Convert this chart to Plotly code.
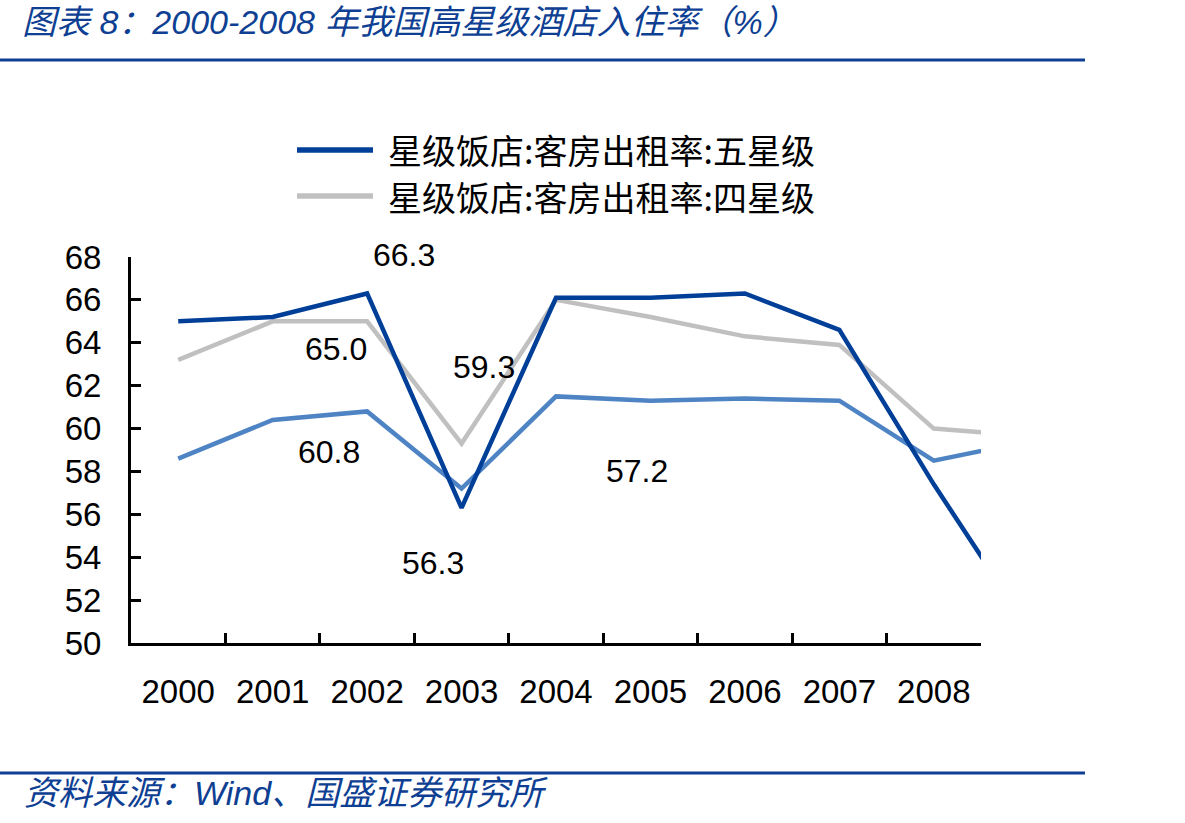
import plotly.graph_objects as go

# ---------------- data ----------------
years = ["2000", "2001", "2002", "2003", "2004", "2005", "2006", "2007", "2008", "2009"]
five_star = [65.0, 65.2, 66.3, 56.3, 66.1, 66.1, 66.3, 64.6, 57.4, 50.7]
four_star = [63.2, 65.0, 65.0, 59.3, 66.0, 65.2, 64.3, 63.9, 60.0, 59.65]
overall = [58.6, 60.4, 60.8, 57.2, 61.5, 61.3, 61.4, 61.3, 58.5, 59.4]
y_ticks = [50, 52, 54, 56, 58, 60, 62, 64, 66, 68]

name_five = "星级饭店:客房出租率:五星级"
name_four = "星级饭店:客房出租率:四星级"
name_all = "星级饭店:客房出租率"

title_text = "图表 8：2000-2008 年我国高星级酒店入住率（%）"
source_text = "资料来源：Wind、国盛证券研究所"

c_five = "#003F98"
c_four = "#C0C0C0"
c_all = "#4F84C4"
c_brand = "#0E3F93"

# ---------------- layout geometry (pixels) ----------------
W, H = 1185, 823
L, R, T, B = 131, 981, 257, 643


def px2x(px):
    return (px - L) / (R - L)


def py2y(py):
    return (B - py) / (B - T)


num_font = "Liberation Sans, Arial, sans-serif"
cjk_font = "Liberation Sans, Noto Sans CJK SC, sans-serif"

fig = go.Figure()
fig.add_trace(go.Scatter(x=years, y=overall, mode="lines", name=name_all,
                         line=dict(color=c_all, width=4.5), showlegend=False))
fig.add_trace(go.Scatter(x=years, y=four_star, mode="lines", name=name_four,
                         line=dict(color=c_four, width=4.5), showlegend=False))
fig.add_trace(go.Scatter(x=years, y=five_star, mode="lines", name=name_five,
                         line=dict(color=c_five, width=4.5), showlegend=False))

# data labels (positioned relative to their points; x = category index)
labels = [
    (five_star, 2, 37, 38),
    (four_star, 2, -31, -28),
    (overall, 2, -38, -41),
    (four_star, 3, 22, 77),
    (five_star, 3, -29, -55),
    (overall, 3, 175, 18),
]
annotations = []
for series, i, dx, dy in labels:
    annotations.append(dict(x=i, y=series[i], xref="x", yref="y",
                            text=f"{series[i]:.1f}", showarrow=False,
                            xshift=dx, yshift=dy, xanchor="center", yanchor="middle",
                            font=dict(family=num_font, size=32, color="black")))

# title and source
annotations.append(dict(x=px2x(20), y=py2y(22), xref="paper", yref="paper",
                        text=f"<i>{title_text}</i>", showarrow=False,
                        xanchor="left", yanchor="middle",
                        font=dict(family=cjk_font, size=34, color=c_brand)))
annotations.append(dict(x=px2x(22), y=py2y(793), xref="paper", yref="paper",
                        text=f"<i>{source_text}</i>", showarrow=False,
                        xanchor="left", yanchor="middle",
                        font=dict(family=cjk_font, size=34, color=c_brand)))

# custom legend
shapes = []
legend_items = [(name_five, c_five, 150), (name_four, c_four, 196)]
for name, col, yy in legend_items:
    shapes.append(dict(type="line", xref="paper", yref="paper",
                       x0=px2x(297), x1=px2x(373), y0=py2y(yy), y1=py2y(yy),
                       line=dict(color=col, width=5.5)))
    annotations.append(dict(x=px2x(386), y=py2y(yy), xref="paper", yref="paper",
                            text=name, showarrow=False, xanchor="left", yanchor="middle",
                            font=dict(family="Noto Sans CJK SC, sans-serif", size=34, color="black")))

# horizontal rules
for yy in (60, 773):
    shapes.append(dict(type="line", xref="paper", yref="paper",
                       x0=px2x(0), x1=px2x(1085), y0=py2y(yy), y1=py2y(yy),
                       line=dict(color=c_brand, width=3)))

fig.update_layout(
    width=W, height=H,
    margin=dict(l=L, r=W - R, t=T, b=H - B, pad=0),
    paper_bgcolor="white", plot_bgcolor="white",
    showlegend=False,
    annotations=annotations,
    shapes=shapes,
)
fig.update_xaxes(
    type="category", categoryorder="array", categoryarray=years,
    range=[-0.5, 8.5], tickson="boundaries",
    ticks="inside", ticklen=10, tickwidth=2.5, tickcolor="black",
    showline=True, linewidth=3, linecolor="black",
    showgrid=False, zeroline=False,
    tickfont=dict(family=num_font, size=33, color="black"),
    ticklabelstandoff=17,
)
fig.update_yaxes(
    range=[50, 68], tickvals=y_ticks, ticktext=[str(v) for v in y_ticks],
    ticks="inside", ticklen=10, tickwidth=2.5, tickcolor="black",
    showline=True, linewidth=3, linecolor="black",
    showgrid=False, zeroline=False,
    tickfont=dict(family=num_font, size=33, color="black"),
    ticklabelstandoff=20,
)

fig.write_html("out.html")
